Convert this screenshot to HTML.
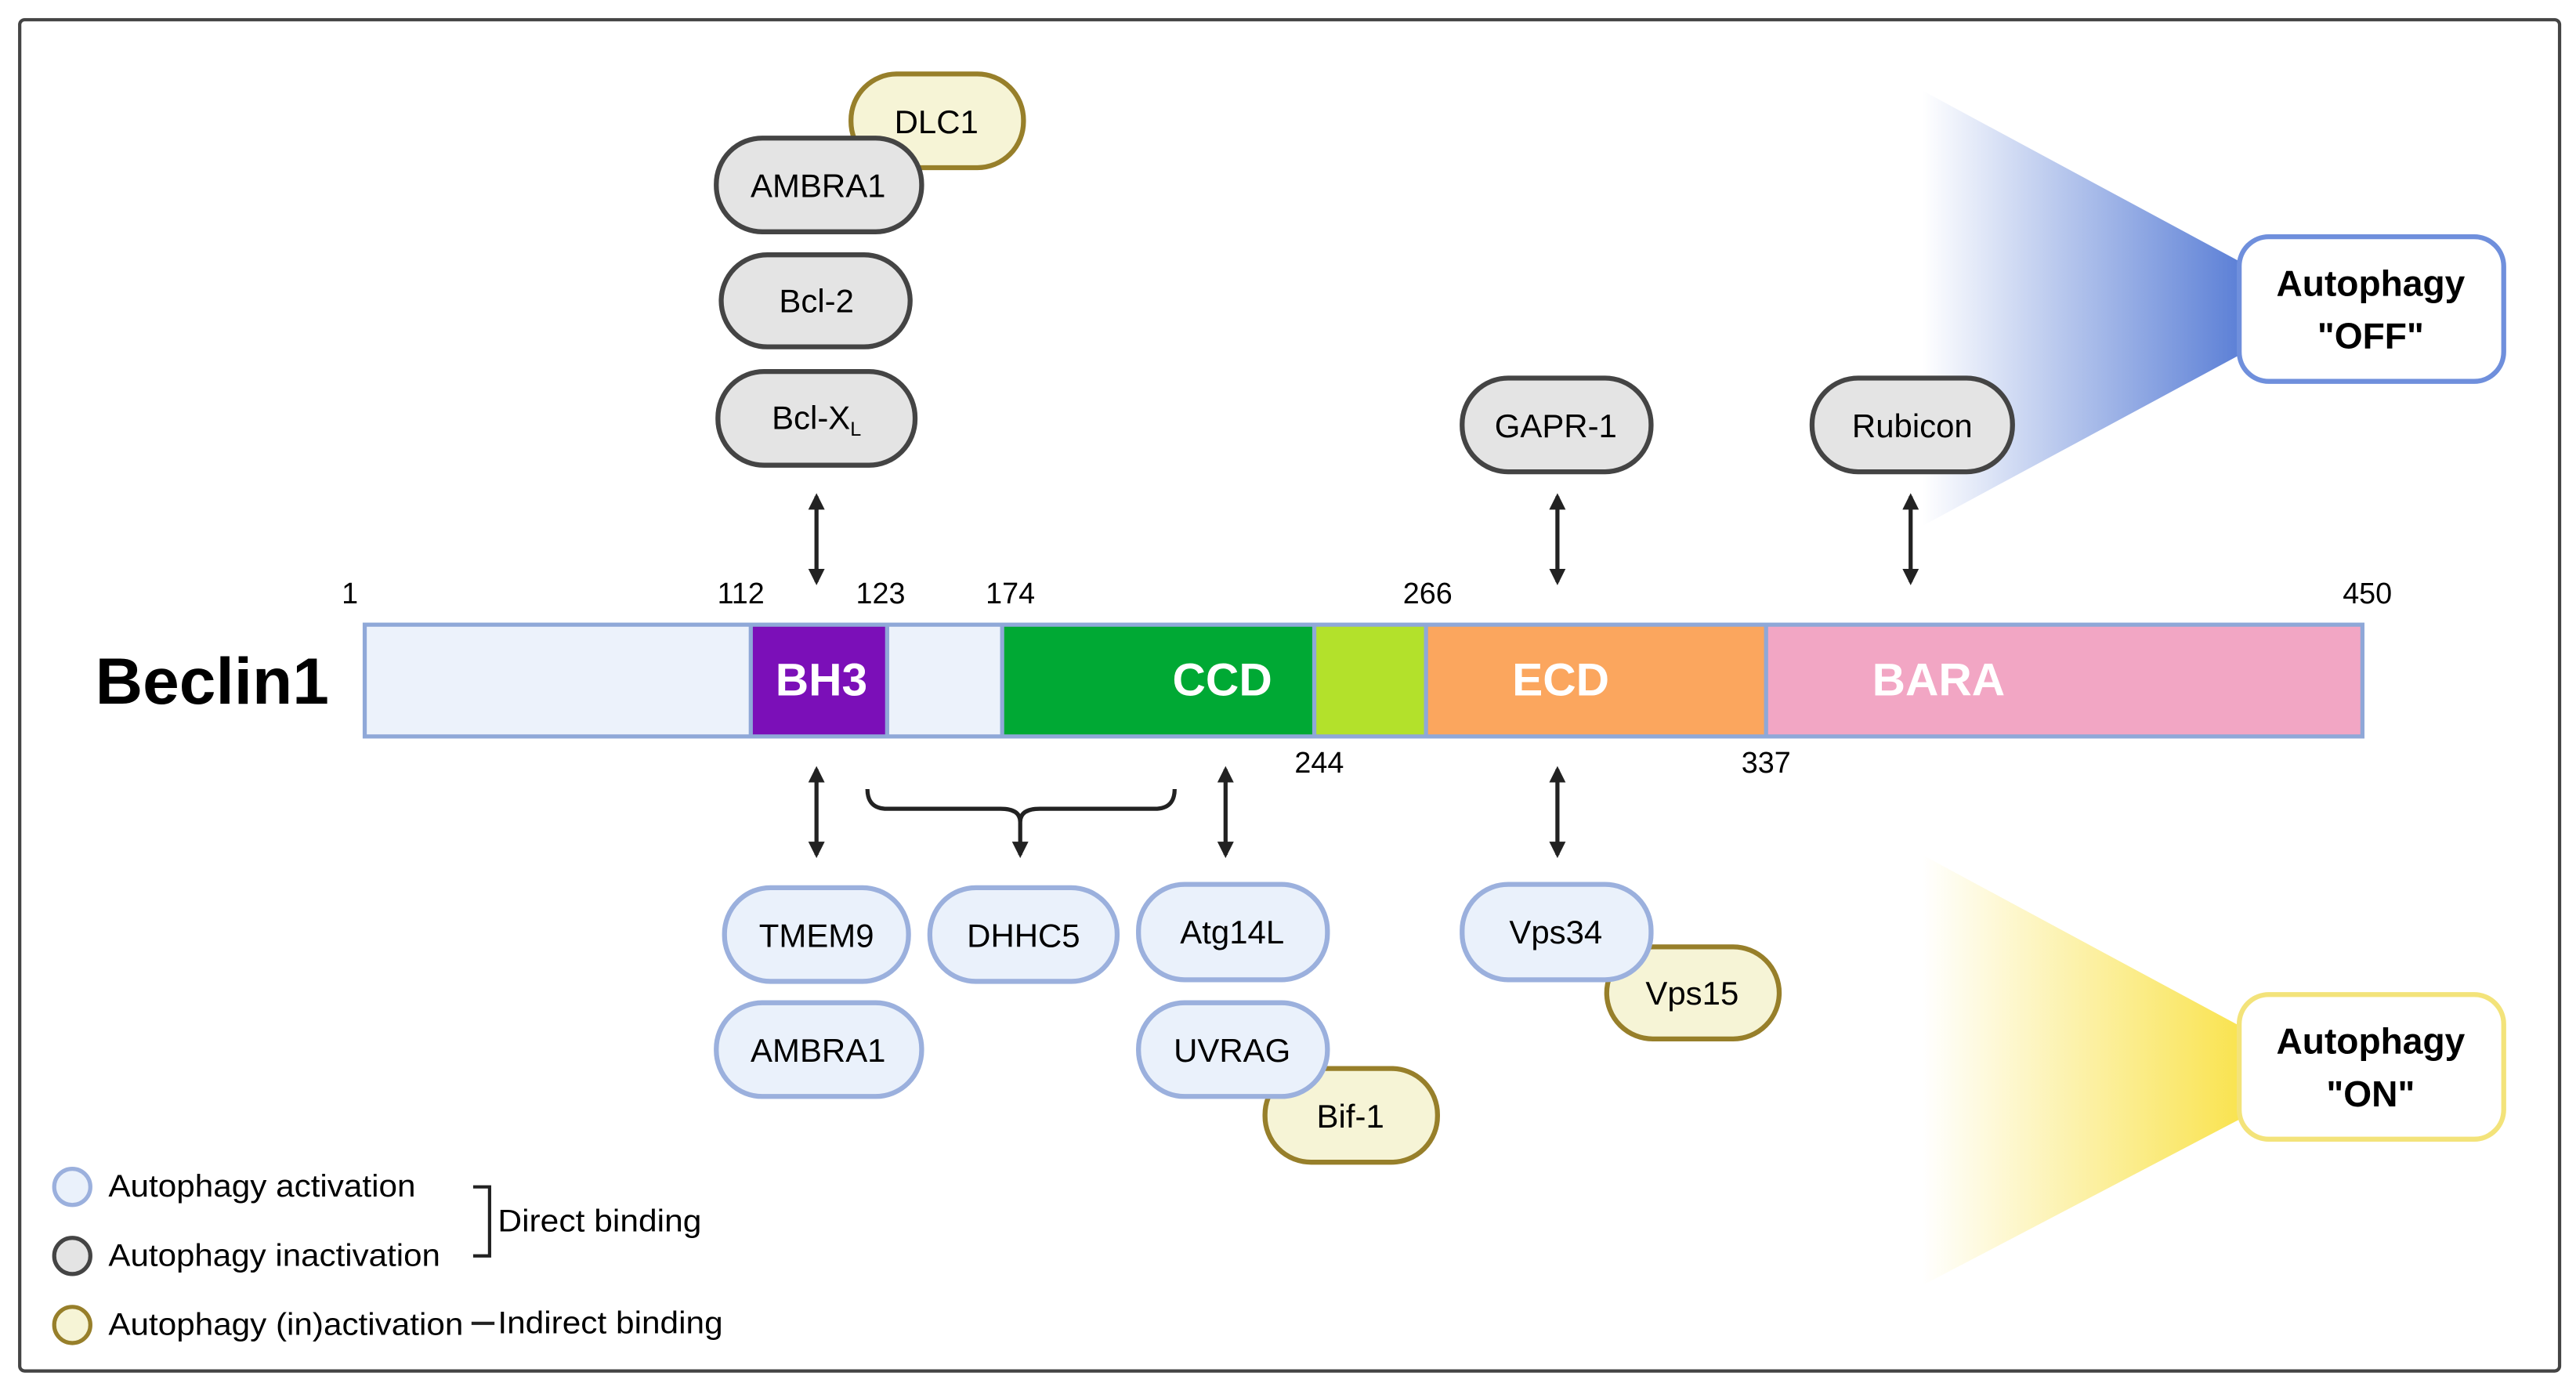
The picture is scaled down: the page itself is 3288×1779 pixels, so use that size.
<!DOCTYPE html>
<html><head><style>html,body{margin:0;padding:0;background:#fff}svg{display:block}svg text{font-family:"Liberation Sans",Arial,sans-serif}</style></head>
<body>
<svg width="3288" height="1779" viewBox="0 0 1568 848" preserveAspectRatio="none" xmlns="http://www.w3.org/2000/svg">
<defs>
<linearGradient id="gb" x1="0" x2="1" y1="0" y2="0"><stop offset="0" stop-color="#5b7fd6" stop-opacity="0"/><stop offset="1" stop-color="#5b7fd6"/></linearGradient>
<linearGradient id="gy" x1="0" x2="1" y1="0" y2="0"><stop offset="0" stop-color="#f9e34f" stop-opacity="0"/><stop offset="1" stop-color="#f9e34f"/></linearGradient>
<marker id="ah" viewBox="0 0 10 10" refX="8" refY="5" markerWidth="4" markerHeight="4" orient="auto-start-reverse"><path d="M0,0L10,5L0,10z" fill="#222"/></marker>
</defs>
<rect x="12" y="12" width="1546" height="822" fill="#fff" stroke="#444" stroke-width="2" rx="3"/>
<polygon points="1170,55 1365,160 1365,215 1170,320" fill="url(#gb)"/>
<polygon points="1170,520 1365,625 1365,680 1170,782" fill="url(#gy)"/>
<rect x="1363" y="144" width="161" height="88" rx="18" fill="#fff" stroke="#6f8fdc" stroke-width="3"/>
<text x="1443" y="180" font-size="22" font-weight="bold" text-anchor="middle">Autophagy</text>
<text x="1443" y="212" font-size="22" font-weight="bold" text-anchor="middle">"OFF"</text>
<rect x="1363" y="605" width="161" height="88" rx="18" fill="#fff" stroke="#f3e37a" stroke-width="3"/>
<text x="1443" y="641" font-size="22" font-weight="bold" text-anchor="middle">Autophagy</text>
<text x="1443" y="673" font-size="22" font-weight="bold" text-anchor="middle">"ON"</text>

<g font-size="18" text-anchor="middle">
<text x="213" y="367">1</text><text x="451" y="367">112</text><text x="536" y="367">123</text><text x="615" y="367">174</text><text x="869" y="367">266</text><text x="1441" y="367">450</text>
<text x="803" y="470">244</text><text x="1075" y="470">337</text>
</g>
<text x="58" y="428" font-size="40" font-weight="bold">Beclin1</text>
<rect x="222" y="380" width="235" height="68" fill="#ecf2fb"/>
<rect x="457" y="380" width="83" height="68" fill="#7b0fb8"/>
<rect x="540" y="380" width="70" height="68" fill="#ecf2fb"/>
<rect x="610" y="380" width="190" height="68" fill="#00a934"/>
<rect x="800" y="380" width="68" height="68" fill="#b3e12b"/>
<rect x="868" y="380" width="207" height="68" fill="#fba65e"/>
<rect x="1075" y="380" width="363" height="68" fill="#f2a6c4"/>
<g stroke="#8fa8d8" stroke-width="2.5" fill="none">
<rect x="222" y="380" width="1216" height="68"/>
<line x1="457" y1="380" x2="457" y2="448"/><line x1="540" y1="380" x2="540" y2="448"/><line x1="610" y1="380" x2="610" y2="448"/><line x1="800" y1="380" x2="800" y2="448"/><line x1="868" y1="380" x2="868" y2="448"/><line x1="1075" y1="380" x2="1075" y2="448"/>
</g>
<g fill="#fff" font-size="28" font-weight="bold" text-anchor="middle">
<text x="500" y="423">BH3</text><text x="744" y="423">CCD</text><text x="950" y="423">ECD</text><text x="1180" y="423">BARA</text>
</g>

<g stroke="#222" stroke-width="2.5" marker-start="url(#ah)" marker-end="url(#ah)">
<line x1="497" y1="302" x2="497" y2="354"/><line x1="948" y1="302" x2="948" y2="354"/><line x1="1163" y1="302" x2="1163" y2="354"/>
<line x1="497" y1="468" x2="497" y2="520"/><line x1="746" y1="468" x2="746" y2="520"/><line x1="948" y1="468" x2="948" y2="520"/>
</g>
<path d="M528,480 Q528,492 540,492 L609,492 Q621,492 621,500 Q621,492 633,492 L703,492 Q715,492 715,480" fill="none" stroke="#222" stroke-width="2.5"/>
<line x1="621" y1="500" x2="621" y2="520" stroke="#222" stroke-width="2.5" marker-end="url(#ah)"/>

<g font-size="20" text-anchor="middle" stroke-width="3">
<rect x="518" y="45" width="105" height="57" rx="28" fill="#f6f4d6" stroke="#977f2a"/><text x="570" y="81">DLC1</text>
<rect x="436" y="84" width="125" height="57" rx="28" fill="#e4e4e4" stroke="#444"/><text x="498" y="120">AMBRA1</text>
<rect x="439" y="155" width="115" height="56" rx="28" fill="#e4e4e4" stroke="#444"/><text x="497" y="190">Bcl-2</text>
<rect x="437" y="226" width="120" height="57" rx="28" fill="#e4e4e4" stroke="#444"/><text x="497" y="261">Bcl-X<tspan font-size="12" dy="4">L</tspan></text>
<rect x="890" y="230" width="115" height="57" rx="28" fill="#e4e4e4" stroke="#444"/><text x="947" y="266">GAPR-1</text>
<rect x="1103" y="230" width="122" height="57" rx="28" fill="#e4e4e4" stroke="#444"/><text x="1164" y="266">Rubicon</text>

<rect x="441" y="540" width="112" height="57" rx="28" fill="#eaf1fb" stroke="#9bb0dd"/><text x="497" y="576">TMEM9</text>
<rect x="566" y="540" width="114" height="57" rx="28" fill="#eaf1fb" stroke="#9bb0dd"/><text x="623" y="576">DHHC5</text>
<rect x="693" y="538" width="115" height="58" rx="28" fill="#eaf1fb" stroke="#9bb0dd"/><text x="750" y="574">Atg14L</text>
<rect x="436" y="610" width="125" height="57" rx="28" fill="#eaf1fb" stroke="#9bb0dd"/><text x="498" y="646">AMBRA1</text>
<rect x="770" y="650" width="105" height="57" rx="28" fill="#f6f4d6" stroke="#977f2a"/><text x="822" y="686">Bif-1</text>
<rect x="693" y="610" width="115" height="57" rx="28" fill="#eaf1fb" stroke="#9bb0dd"/><text x="750" y="646">UVRAG</text>
<rect x="978" y="576" width="105" height="56" rx="28" fill="#f6f4d6" stroke="#977f2a"/><text x="1030" y="611">Vps15</text>
<rect x="890" y="538" width="115" height="58" rx="28" fill="#eaf1fb" stroke="#9bb0dd"/><text x="947" y="574">Vps34</text>
</g>

<g font-size="19">
<circle cx="44" cy="722" r="11" fill="#eaf1fb" stroke="#9bb0dd" stroke-width="2.5"/>
<circle cx="44" cy="764" r="11" fill="#e4e4e4" stroke="#444" stroke-width="2.5"/>
<circle cx="44" cy="806" r="11" fill="#f6f4d6" stroke="#977f2a" stroke-width="2.5"/>
<text x="66" y="728" textLength="187" lengthAdjust="spacingAndGlyphs">Autophagy activation</text>
<text x="66" y="770" textLength="202" lengthAdjust="spacingAndGlyphs">Autophagy inactivation</text>
<text x="66" y="812" textLength="216" lengthAdjust="spacingAndGlyphs">Autophagy (in)activation</text>
<path d="M288,722 L298,722 L298,764 L288,764" fill="none" stroke="#222" stroke-width="2"/>
<text x="303" y="749" textLength="124" lengthAdjust="spacingAndGlyphs">Direct binding</text>
<line x1="287" y1="805" x2="301" y2="805" stroke="#222" stroke-width="2"/>
<text x="303" y="811" textLength="137" lengthAdjust="spacingAndGlyphs">Indirect binding</text>
</g>
</svg>
</body></html>
